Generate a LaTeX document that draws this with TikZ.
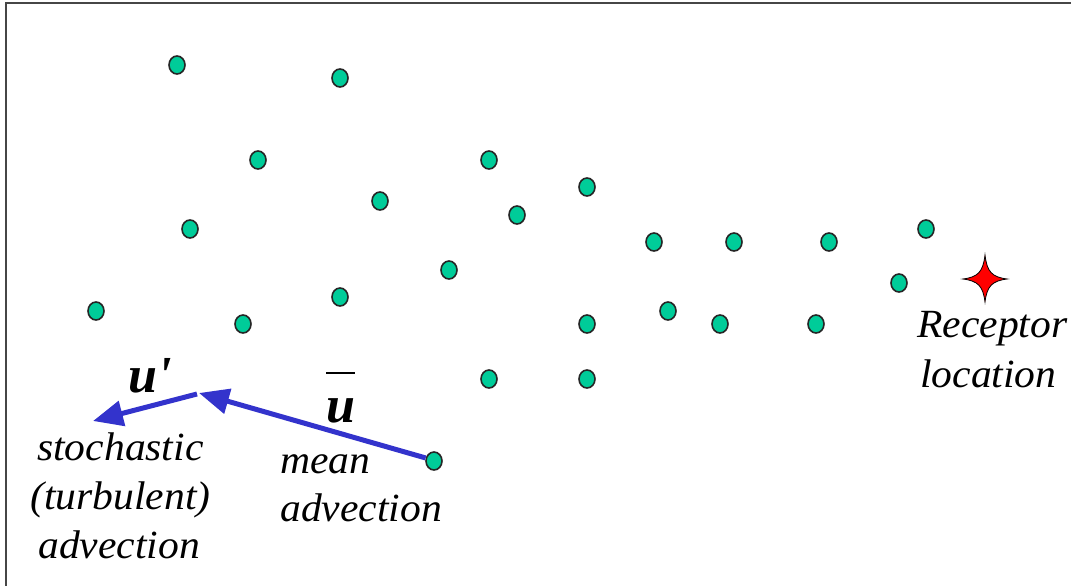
\documentclass[tikz,border=0pt]{standalone}
\usepackage{fontspec}
\setmainfont{Liberation Serif}
\newfontfamily\lblfont[FakeStretch=1.04]{Liberation Serif}
\usetikzlibrary{arrows.meta,shapes.geometric,calc}
\definecolor{dotgreen}{RGB}{0,204,153}
\definecolor{advblue}{RGB}{51,51,204}
\definecolor{framegray}{RGB}{70,70,70}
\tikzset{
  dot/.style={ellipse, draw=black!85, line width=1.6pt, fill=dotgreen, minimum width=16pt, minimum height=18pt, inner sep=0pt},
  adv/.style={draw=advblue, line width=5pt, -{Triangle[length=30pt,width=25pt]}},
  lbl/.style={anchor=base west, inner sep=0pt, font=\lblfont\fontsize{40}{48}\selectfont\itshape},
  sym/.style={anchor=base west, inner sep=0pt, font=\fontsize{52}{52}\selectfont\bfseries\itshape},
}
\begin{document}
\begin{tikzpicture}[x=1pt,y=-1pt]
\useasboundingbox (0,0) rectangle (1071,586);
\fill[white] (0,0) rectangle (1071,586);
% frame
\draw[framegray, line width=2.2pt] (6,586) -- (6,3) -- (1071,3);
% dots
\foreach \n/\x/\y in {1/177/65, 2/340/78, 3/258/160, 4/489/160, 5/587/187, 6/380/201, 7/517/215, 8/190/229, 9/654/242, 10/734/242, 11/829/242, 12/926/229, 13/449/270, 14/899/283, 15/96/311, 16/243/324, 17/340/297, 18/587/324, 19/668/311, 20/720/324, 21/816/324, 22/489/379, 23/587/379, 24/434/461}
  \node[dot] (d\n) at (\x,\y) {};
% receptor star
\coordinate (rec) at (985,279);
\filldraw[fill=red, draw=black, line width=0.8pt]
  ($(rec)+(0,-24)$) .. controls ($(rec)+(2,-7)$) and ($(rec)+(7,-2)$) .. ($(rec)+(22,0)$)
  .. controls ($(rec)+(7,2)$) and ($(rec)+(2,7)$) .. ($(rec)+(0,23)$)
  .. controls ($(rec)+(-2,7)$) and ($(rec)+(-7,2)$) .. ($(rec)+(-22,0)$)
  .. controls ($(rec)+(-7,-2)$) and ($(rec)+(-2,-7)$) .. cycle;
% advection arrows
\coordinate (turn) at (199,393);
\coordinate (tipend) at (93,421);
\draw[adv] (d24.160) -- (turn);
\draw[adv] ($(turn)+(-2,1)$) -- (tipend);
% symbols
\node[sym] (uprime) at (128,392) {u\textquotesingle};
\node[sym] (ubar) at (326,422) {u\llap{\raisebox{48pt}{\rule{29pt}{2.5pt}}}};
% labels
\node[lbl] (s1) at (37,460) {stochastic};
\node[lbl] (s2) at (30,509) {(turbulent)};
\node[lbl] (s3) at (38,558) {advection};
\node[lbl] (m1) at (280,473) {mean};
\node[lbl] (m2) at (280,521) {advection};
\node[lbl] (r1) at (917,337) {Receptor};
\node[lbl] (r2) at (920,387) {location};
\end{tikzpicture}
\end{document}
